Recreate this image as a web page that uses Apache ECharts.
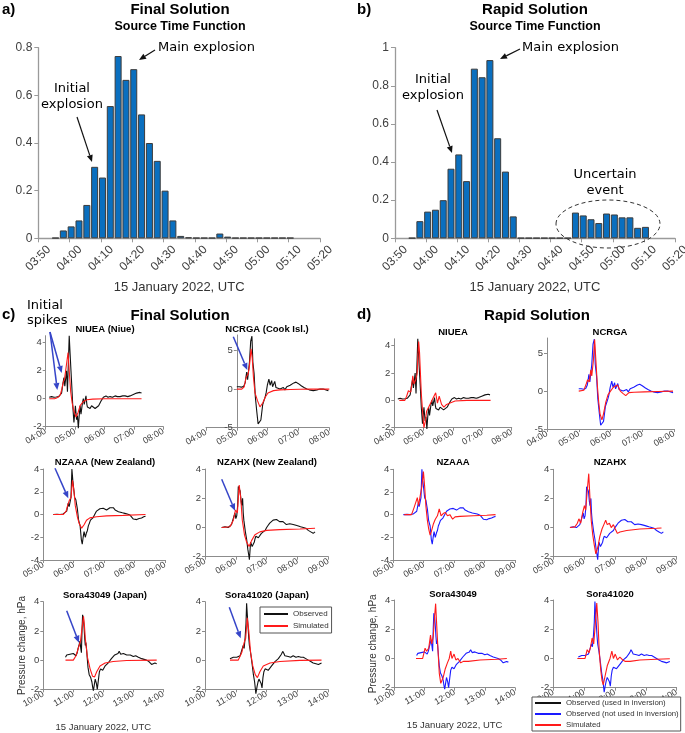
<!DOCTYPE html>
<html>
<head>
<meta charset="utf-8">
<script src="https://cdn.jsdelivr.net/npm/echarts@6/dist/echarts.min.js"></script>
<style>
  html, body { margin: 0; padding: 0; background: #fff; }
  #chart { width: 685px; height: 733px; }
</style>
</head>
<body>
<div id="chart"></div>
<script>
// ---------- source time functions (a, b) ----------
// bin centres in minutes after 03:50 UTC
const stfMinutes = [5.5, 8, 10.5, 13, 15.5, 18, 20.5, 23, 25.5, 28, 30.5, 33, 35.5, 38, 40.5, 43,
  45.5, 48, 50.5, 53, 55.5, 58, 60.5, 63, 65.5, 68, 70.5, 73, 75.5, 78, 80.5];
const finalSTF = [0.002, 0.033, 0.05, 0.075, 0.14, 0.30, 0.255, 0.555, 0.765, 0.665, 0.71, 0.52, 0.40, 0.325, 0.20, 0.075,
  0.01, 0.004, 0.002, 0.002, 0.002, 0.02, 0.007, 0.002, 0.002, 0.002, 0.002, 0.002, 0.002, 0.002, 0.002];
const rapidSTF = [0.002, 0.09, 0.14, 0.15, 0.20, 0.365, 0.44, 0.30, 0.89, 0.845, 0.935, 0.525, 0.35, 0.115, 0.002, 0.002,
  0.002, 0.002, 0.002, 0.002, 0.002, 0.135, 0.12, 0.10, 0.08, 0.13, 0.125, 0.11, 0.11, 0.055, 0.06];
const stfTicks = [0, 10, 20, 30, 40, 50, 60, 70, 80, 90];
const stfTickLabels = ['03:50', '04:00', '04:10', '04:20', '04:30', '04:40', '04:50', '05:00', '05:10', '05:20'];
const finalYTicks = [0, 0.2, 0.4, 0.6, 0.8];
const rapidYTicks = [0, 0.2, 0.4, 0.6, 0.8, 1];

// ---------- barograph waveforms (c, d): [hour UTC, hPa] ----------
const obsNIUEA = [[4.12,0.1],[4.2,0.15],[4.28,0.1],[4.36,0.12],[4.44,0.15],[4.5,0.2],[4.54,0.4],[4.58,1.0],[4.62,1.5],[4.65,0.9],
  [4.68,0.8],[4.71,2.0],[4.74,0.5],[4.77,2.5],[4.8,4.5],[4.83,3.2],[4.86,2.0],[4.89,0.8],[4.92,-0.5],[4.96,-1.7],[4.99,-1.0],
  [5.01,-0.5],[5.05,-1.5],[5.08,-1.2],[5.11,-2.1],[5.14,-1.2],[5.17,-0.5],[5.2,-1.1],[5.22,-1.0],[5.25,-0.3],[5.28,0.0],
  [5.31,-0.4],[5.34,-0.3],[5.37,0.2],[5.4,-0.4],[5.42,-0.6],[5.47,-0.5],[5.51,-0.7],[5.56,-0.5],[5.62,-0.6],[5.68,-0.7],
  [5.74,-0.8],[5.8,-0.5],[5.85,-0.4],[5.9,-0.1],[5.96,0.1],[6.0,0.05],[6.05,0.2],[6.12,0.1],[6.19,0.15],[6.27,0.1],[6.36,0.2],
  [6.44,0.15],[6.53,0.15],[6.62,0.2],[6.7,0.2],[6.79,0.15],[6.87,0.2],[6.93,0.3],[6.98,0.3],[7.04,0.35],[7.09,0.4],[7.15,0.45],
  [7.2,0.45],[7.26,0.4]];
const obsNCRGA = [[5.0,0.3],[5.08,0.3],[5.15,0.25],[5.22,0.35],[5.27,0.8],[5.32,2.2],[5.35,1.2],[5.37,1.0],[5.41,3.5],[5.45,6.2],
  [5.49,6.85],[5.52,3.5],[5.56,2.0],[5.6,-1.0],[5.65,-3.0],[5.69,-4.5],[5.73,-4.7],[5.78,-4.0],[5.84,-2.0],[5.88,-1.5],[5.92,-1.0],
  [5.95,-0.5],[5.99,0.5],[6.04,1.3],[6.08,0.5],[6.13,1.1],[6.16,0.3],[6.19,0.4],[6.23,1.0],[6.27,0.2],[6.32,0.3],[6.4,0.0],
  [6.45,0.2],[6.51,0.2],[6.56,-0.1],[6.62,0.3],[6.68,0.4],[6.73,0.5],[6.79,0.7],[6.85,0.8],[6.92,0.9],[7.0,0.7],[7.05,0.55],
  [7.1,0.4],[7.18,0.2],[7.27,0.0],[7.35,-0.1],[7.48,-0.2],[7.6,-0.1],[7.7,0.0],[7.8,0.0],[7.86,-0.1],[7.97,-0.2]];
const obsNZAAA = [[5.33,0],[5.45,0.02],[5.55,0.0],[5.65,0.05],[5.71,0.05],[5.77,0.3],[5.82,1.0],[5.85,0.7],[5.88,0.6],[5.91,1.5],
  [5.94,4.0],[5.97,3.0],[5.99,2.5],[6.03,1.5],[6.07,1.3],[6.1,0.8],[6.12,0.5],[6.16,-0.5],[6.21,-1.0],[6.25,-2.2],[6.28,-2.6],
  [6.31,-2.0],[6.34,-1.5],[6.38,-2.0],[6.42,-1.6],[6.45,-1.4],[6.48,-1.0],[6.51,-0.8],[6.55,-0.5],[6.59,-0.4],[6.63,-0.3],
  [6.67,-0.2],[6.71,0.1],[6.75,0.3],[6.8,0.2],[6.86,0.5],[6.92,0.45],[6.97,0.55],[7.03,0.6],[7.08,0.4],[7.14,0.5],[7.19,0.6],
  [7.25,0.65],[7.3,0.6],[7.36,0.4],[7.41,0.3],[7.47,0.25],[7.52,0.2],[7.6,0.15],[7.68,0.1],[7.76,0.05],[7.85,-0.05],[7.9,-0.2],
  [7.96,-0.4],[8.02,-0.4],[8.07,-0.45],[8.15,-0.35],[8.23,-0.3],[8.3,-0.2],[8.36,-0.15]];
const obsNZAHX = [[5.54,0],[5.6,-0.1],[5.65,0.05],[5.7,0.1],[5.75,0.0],[5.81,0.0],[5.86,0.2],[5.92,0.3],[5.97,1.0],[6.0,0.6],
  [6.03,0.8],[6.06,1.5],[6.08,2.8],[6.11,2.9],[6.14,2.5],[6.17,1.8],[6.19,1.5],[6.22,2.0],[6.24,1.0],[6.26,0.5],[6.31,-0.3],
  [6.35,-0.8],[6.39,-1.5],[6.42,-1.9],[6.44,-2.2],[6.48,-1.0],[6.53,-1.3],[6.57,-1.4],[6.6,-1.0],[6.62,-0.8],[6.65,-0.6],
  [6.68,-0.5],[6.73,-0.7],[6.78,-0.6],[6.83,-0.4],[6.89,-0.3],[6.95,-0.2],[7.0,0.0],[7.05,0.15],[7.1,0.3],[7.16,0.4],[7.21,0.5],
  [7.27,0.55],[7.32,0.55],[7.37,0.45],[7.42,0.4],[7.48,0.45],[7.53,0.4],[7.58,0.3],[7.64,0.2],[7.7,0.3],[7.75,0.25],[7.81,0.2],
  [7.86,0.2],[7.95,0.15],[8.03,0.1],[8.1,0.05],[8.19,0.0],[8.27,-0.05],[8.35,-0.2],[8.43,-0.3],[8.51,-0.4],[8.57,-0.3]];
const obsSora43049 = [[10.74,0.2],[10.78,0.35],[10.84,0.35],[10.89,0.4],[10.95,0.4],[11.0,0.45],[11.05,0.4],[11.09,0.3],[11.13,0.5],
  [11.16,0.8],[11.2,1.1],[11.22,1.3],[11.25,0.8],[11.27,0.5],[11.29,2.0],[11.31,3.1],[11.34,2.8],[11.36,2.2],[11.38,1.5],[11.4,1.0],
  [11.42,1.2],[11.44,0.8],[11.47,0.0],[11.49,-0.5],[11.53,-1.0],[11.58,-1.2],[11.62,-1.5],[11.65,-1.9],[11.67,-2.1],[11.7,-1.7],
  [11.73,-1.3],[11.77,-1.6],[11.8,-2.0],[11.84,-1.3],[11.87,-0.8],[11.91,-0.6],[11.94,-0.5],[11.98,-0.7],[12.02,-0.6],[12.06,-0.4],
  [12.11,-0.4],[12.16,-0.2],[12.22,-0.1],[12.27,0.1],[12.33,0.2],[12.38,0.35],[12.44,0.3],[12.49,0.45],[12.53,0.6],[12.58,0.4],
  [12.62,0.3],[12.67,0.45],[12.72,0.5],[12.78,0.35],[12.83,0.3],[12.9,0.35],[13.0,0.25],[13.08,0.3],[13.17,0.2],[13.22,0.2],
  [13.28,0.1],[13.36,0.05],[13.44,0.0],[13.52,-0.1],[13.61,-0.3],[13.67,-0.2],[13.72,-0.2],[13.78,-0.25]];
const obsSora41020 = [[10.81,0.1],[10.86,0.15],[10.92,0.2],[10.98,0.2],[11.03,0.2],[11.08,0.25],[11.14,0.3],[11.19,0.4],[11.24,1.0],
  [11.27,0.8],[11.3,1.5],[11.33,2.5],[11.35,3.9],[11.37,3.2],[11.39,2.5],[11.42,1.5],[11.44,1.0],[11.48,0.5],[11.53,-0.3],[11.57,-1.0],
  [11.61,-1.5],[11.65,-2.3],[11.69,-1.8],[11.72,-1.5],[11.75,-1.3],[11.78,-1.2],[11.82,-1.6],[11.85,-1.9],[11.88,-1.2],[11.91,-0.8],
  [11.95,-0.6],[12.0,-0.5],[12.05,-0.7],[12.11,-0.6],[12.16,-0.4],[12.22,-0.3],[12.27,-0.1],[12.32,0.0],[12.38,0.1],[12.43,0.2],
  [12.48,0.4],[12.52,0.6],[12.56,0.45],[12.59,0.3],[12.65,0.2],[12.7,0.25],[12.78,0.2],[12.86,0.3],[12.95,0.2],[13.03,0.25],
  [13.11,0.2],[13.19,0.2],[13.27,0.1],[13.35,0.0],[13.43,-0.1],[13.51,-0.2],[13.6,-0.25],[13.68,-0.3],[13.78,-0.2]];

const simFinalNIUEA = [[4.12,0],[4.3,0],[4.37,0.05],[4.45,0.15],[4.5,0.3],[4.55,0.7],[4.6,1.2],[4.64,1.4],[4.67,1.5],[4.71,2.5],
  [4.76,3.3],[4.8,2.0],[4.85,0.5],[4.9,-0.3],[4.96,-0.9],[5.03,-1.3],[5.1,-1.0],[5.17,-0.5],[5.28,-0.2],[5.4,-0.08],[5.6,-0.03],
  [6.0,0],[7.26,0]];
const simFinalNCRGA = [[5.0,0],[5.16,0],[5.24,0.3],[5.3,1.5],[5.37,2.0],[5.41,3.0],[5.46,5.2],[5.5,4.0],[5.54,1.5],[5.59,-0.5],
  [5.67,-1.5],[5.75,-2.3],[5.84,-1.8],[5.93,-1.0],[6.01,-0.5],[6.19,-0.2],[6.4,-0.1],[6.73,-0.05],[7.37,0],[8.0,0]];
const simFinalNZAAA = [[5.33,0],[5.66,0],[5.75,0.3],[5.8,0.8],[5.85,1.2],[5.91,1.5],[5.96,3.0],[6.01,2.0],[6.05,0.8],[6.12,-0.2],
  [6.18,-0.8],[6.26,-1.2],[6.34,-0.9],[6.42,-0.5],[6.53,-0.3],[6.75,-0.2],[7.08,-0.12],[7.63,-0.08],[8.36,0]];
const simFinalNZAHX = [[5.54,0],[5.81,0.05],[5.92,0.5],[5.99,1.2],[6.05,1.0],[6.11,2.9],[6.16,2.0],[6.21,0.5],[6.28,-0.5],[6.35,-1.0],
  [6.43,-1.3],[6.51,-0.9],[6.62,-0.5],[6.78,-0.3],[7.0,-0.2],[7.42,-0.15],[8.08,-0.1],[8.57,-0.05]];
const simFinalSora43049 = [[10.74,0],[11.0,0],[11.09,0.3],[11.18,0.9],[11.24,1.3],[11.31,2.5],[11.34,3.0],[11.37,2.4],[11.4,1.5],
  [11.47,0.2],[11.56,-0.6],[11.64,-1.1],[11.71,-1.15],[11.78,-0.8],[11.89,-0.4],[12.06,-0.2],[12.33,-0.1],[12.78,-0.03],[13.78,0]];
const simFinalSora41020 = [[10.81,0],[11.08,0],[11.19,0.5],[11.27,1.2],[11.32,1.5],[11.37,2.9],[11.42,2.0],[11.48,0.5],[11.55,-0.4],
  [11.63,-1.0],[11.7,-1.2],[11.78,-0.8],[11.89,-0.4],[12.11,-0.2],[12.43,-0.1],[13.08,-0.02],[13.78,0]];

const simRapidNIUEA = [[4.17,0],[4.36,0],[4.42,0.3],[4.48,0.7],[4.52,0.75],[4.56,0.6],[4.6,1.2],[4.63,1.8],[4.67,1.2],[4.7,1.3],
  [4.73,1.5],[4.78,2.0],[4.81,3.5],[4.83,4.3],[4.86,3.5],[4.88,2.5],[4.92,0.5],[4.97,-1.0],[5.01,-2.0],[5.06,-1.5],[5.1,-0.8],
  [5.17,-0.5],[5.24,-0.2],[5.33,0.2],[5.41,0.55],[5.47,-0.2],[5.53,0.3],[5.61,-0.3],[5.69,-0.5],[5.78,-0.3],[5.9,-0.2],
  [6.07,-0.05],[6.47,0],[7.28,0]];
const simRapidNCRGA = [[5.0,0],[5.16,0.1],[5.24,1.0],[5.28,1.5],[5.33,1.2],[5.38,2.8],[5.41,2.0],[5.46,4.0],[5.5,6.8],[5.54,4.0],
  [5.59,0.5],[5.63,-1.5],[5.67,-3.0],[5.73,-3.8],[5.78,-3.0],[5.85,-1.5],[5.92,-0.5],[6.0,0.0],[6.09,0.5],[6.15,0.3],[6.22,0.8],
  [6.31,0.0],[6.39,-0.3],[6.48,-0.6],[6.58,-0.2],[6.74,-0.15],[7.07,-0.1],[7.51,-0.05],[7.97,0]];
const simRapidNZAAA = [[5.36,0],[5.6,0],[5.68,0.6],[5.73,0.5],[5.79,1.5],[5.83,0.8],[5.88,1.6],[5.94,2.5],[5.99,3.8],[6.03,2.5],
  [6.07,0.8],[6.12,-0.5],[6.16,-1.2],[6.21,-1.8],[6.25,-1.5],[6.32,-0.8],[6.38,-0.4],[6.45,-0.1],[6.51,0.5],[6.57,-0.1],[6.64,0.1],
  [6.71,0.2],[6.78,-0.1],[6.86,0.0],[6.95,-0.4],[7.03,-0.2],[7.19,-0.15],[7.63,-0.1],[8.07,-0.05],[8.36,0]];
const simRapidNZAHX = [[5.54,0],[5.7,0.05],[5.78,0.3],[5.83,0.6],[5.89,0.3],[5.95,1.0],[6.01,1.5],[6.05,1.2],[6.1,2.5],[6.15,3.7],
  [6.19,2.0],[6.23,0.5],[6.28,-0.5],[6.33,-1.2],[6.38,-1.8],[6.45,-1.3],[6.51,-0.6],[6.58,-0.1],[6.64,0.2],[6.7,0.5],[6.75,0.2],
  [6.82,0.3],[6.88,0.0],[6.95,0.2],[7.01,-0.1],[7.08,-0.4],[7.16,-0.3],[7.38,-0.2],[7.81,-0.1],[8.35,-0.05],[8.51,-0.03]];
const simRapidSora43049 = [[10.72,0],[10.94,0],[11.02,0.7],[11.07,0.5],[11.14,0.7],[11.2,1.6],[11.24,1.0],[11.29,1.5],[11.34,3.0],
  [11.37,3.75],[11.4,2.5],[11.45,0.5],[11.49,-1.0],[11.54,-1.7],[11.58,-1.8],[11.62,-1.3],[11.69,-0.7],[11.76,-0.3],[11.82,0.0],
  [11.87,0.5],[11.91,0.0],[11.98,0.3],[12.04,-0.1],[12.11,0.0],[12.2,-0.3],[12.29,-0.2],[12.45,-0.2],[12.84,-0.1],[13.4,-0.05],[13.73,0]];
const simRapidSora41020 = [[10.78,0],[11.03,0],[11.1,0.6],[11.16,0.4],[11.21,0.8],[11.26,1.4],[11.31,1.0],[11.35,2.0],[11.41,3.8],
  [11.45,2.5],[11.49,0.5],[11.54,-0.8],[11.58,-1.5],[11.62,-1.8],[11.68,-1.2],[11.75,-0.5],[11.84,0.0],[11.9,0.5],[11.95,0.0],
  [12.01,0.3],[12.08,-0.1],[12.16,0.1],[12.25,-0.1],[12.34,-0.2],[12.49,-0.2],[12.81,-0.1],[13.35,-0.05],[13.78,-0.02]];

const hoursNiue = [4, 5, 6, 7, 8];
const hoursNZ = [5, 6, 7, 8, 9];
const hoursJapan = [10, 11, 12, 13, 14];
const ticksSmall = [-2, 0, 2, 4];
const ticksCook = [-5, 0, 5];
const ticksNZAAA = [-4, -2, 0, 2, 4];

// ---------- styling ----------
const FONT = "'Liberation Sans', Arial, sans-serif";
const ANN = "'DejaVu Sans', Verdana, sans-serif";
const AXIS = '#9a9a9a';
const LBL = '#404040';
const BLACK = '#111111', RED = '#ff1a1a', BLUE = '#1a1aff';
const USED = 'Observed (used in inversion)', NOTUSED = 'Observed (not used in inversion)';

const grids = [], xAxes = [], yAxes = [], series = [], elements = [];

function hourLabel(v) { return (v < 10 ? '0' : '') + v + ':00'; }

// top panels a) and b)
function stfPanel(left, width, ymax, yticks, values) {
  const i = grids.length;
  grids.push({ left: left, top: 47.7, width: width, height: 190.6, outerBoundsMode: 'none' });
  xAxes.push({
    gridIndex: i, type: 'value', min: 0, max: 90,
    axisLine: { onZero: false, lineStyle: { color: AXIS, width: 1.3 } },
    axisTick: { customValues: stfTicks, length: 4, lineStyle: { color: AXIS } },
    axisLabel: { customValues: stfTicks, rotate: 45, align: 'center', verticalAlign: 'middle', margin: 20,
      fontSize: 12, color: LBL, fontFamily: FONT,
      formatter: v => stfTickLabels[stfTicks.indexOf(v)] },
    splitLine: { show: false },
    name: '15 January 2022, UTC', nameLocation: 'middle', nameGap: 43,
    nameTextStyle: { fontSize: 13, color: '#333', fontFamily: FONT }
  });
  yAxes.push({
    gridIndex: i, type: 'value', min: 0, max: ymax,
    axisLine: { show: true, lineStyle: { color: AXIS, width: 1.3 } },
    axisTick: { show: true, customValues: yticks, length: 4, lineStyle: { color: AXIS } },
    axisLabel: { customValues: yticks, fontSize: 12, color: LBL, fontFamily: FONT, margin: 6 },
    splitLine: { show: false }
  });
  series.push({
    type: 'bar', xAxisIndex: i, yAxisIndex: i, barWidth: 7,
    data: stfMinutes.map((m, k) => [m, values[k]]),
    itemStyle: { color: '#0a6fbf', borderColor: '#3c3c3c', borderWidth: 1 }
  });
}

stfPanel(38.3, 281.7, 0.8, finalYTicks, finalSTF);
stfPanel(395, 280, 1, rapidYTicks, rapidSTF);

// bottom panels c) and d)
const panels = [
  { t: 'NIUEA (Niue)', tx: 105, ty: 329, box: [45.7, 335.7, 117.6, 91], x: [4, 8], y: [-2, 4.5], xt: hoursNiue, yt: ticksSmall,
    obs: obsNIUEA, sim: simFinalNIUEA, on: 'Observed', oc: BLACK },
  { t: 'NCRGA (Cook Isl.)', tx: 267, ty: 329, box: [206, 335, 123.3, 92.7], off: -30.8, x: [4, 8], y: [-5, 7], xt: hoursNiue, yt: ticksCook,
    obs: obsNCRGA, sim: simFinalNCRGA, on: 'Observed', oc: BLACK },
  { t: 'NZAAA (New Zealand)', tx: 105, ty: 462, box: [43.3, 469, 121.7, 91], x: [5, 9], y: [-4, 4], xt: hoursNZ, yt: ticksNZAAA,
    obs: obsNZAAA, sim: simFinalNZAAA, on: 'Observed', oc: BLACK },
  { t: 'NZAHX (New Zealand)', tx: 267, ty: 462, box: [205, 469, 123.3, 87.7], x: [5, 9], y: [-2, 4], xt: hoursNZ, yt: ticksSmall,
    obs: obsNZAHX, sim: simFinalNZAHX, on: 'Observed', oc: BLACK },
  { t: 'Sora43049 (Japan)', tx: 105, ty: 595, box: [43.3, 601.7, 120, 87.6], x: [10, 14], y: [-2, 4], xt: hoursJapan, yt: ticksSmall,
    obs: obsSora43049, sim: simFinalSora43049, on: 'Observed', oc: BLACK, names: true },
  { t: 'Sora41020 (Japan)', tx: 267, ty: 595, box: [205, 601.7, 123.3, 87.6], x: [10, 14], y: [-2, 4], xt: hoursJapan, yt: ticksSmall,
    obs: obsSora41020, sim: simFinalSora41020, on: 'Observed', oc: BLACK },
  { t: 'NIUEA', tx: 453, ty: 332, box: [394.3, 338.8, 117.4, 88.9], x: [4, 8], y: [-2, 4.5], xt: hoursNiue, yt: ticksSmall,
    obs: obsNIUEA, sim: simRapidNIUEA, on: USED, oc: BLACK },
  { t: 'NCRGA', tx: 610, ty: 332, box: [547, 338, 127, 91], x: [4, 8], y: [-5, 7], xt: hoursNiue, yt: ticksCook,
    obs: obsNCRGA, sim: simRapidNCRGA, on: NOTUSED, oc: BLUE },
  { t: 'NZAAA', tx: 453, ty: 462, box: [393.3, 469.3, 121.7, 90.7], x: [5, 9], y: [-4, 4], xt: hoursNZ, yt: ticksNZAAA,
    obs: obsNZAAA, sim: simRapidNZAAA, on: NOTUSED, oc: BLUE },
  { t: 'NZAHX', tx: 610, ty: 462, box: [553.3, 469.3, 123.3, 87.4], x: [5, 9], y: [-2, 4], xt: hoursNZ, yt: ticksSmall,
    obs: obsNZAHX, sim: simRapidNZAHX, on: NOTUSED, oc: BLUE },
  { t: 'Sora43049', tx: 453, ty: 594, box: [394.3, 600, 120.7, 87.7], x: [10, 14], y: [-2, 4], xt: hoursJapan, yt: ticksSmall,
    obs: obsSora43049, sim: simRapidSora43049, on: NOTUSED, oc: BLUE, names: true },
  { t: 'Sora41020', tx: 610, ty: 594, box: [553.3, 600, 123.3, 87.7], x: [10, 14], y: [-2, 4], xt: hoursJapan, yt: ticksSmall,
    obs: obsSora41020, sim: simRapidSora41020, on: NOTUSED, oc: BLUE }
];

panels.forEach(p => {
  const i = grids.length;
  grids.push({ left: p.box[0], top: p.box[1], width: p.box[2], height: p.box[3], outerBoundsMode: 'none' });
  const xa = {
    gridIndex: i, type: 'value', min: p.x[0], max: p.x[1],
    axisLine: { onZero: false, lineStyle: { color: '#8c8c8c', width: 1 } },
    axisTick: { customValues: p.xt, length: 3, lineStyle: { color: '#8c8c8c' } },
    axisLabel: { customValues: p.xt, rotate: 30, margin: 4, fontSize: 9, color: LBL, fontFamily: FONT, formatter: hourLabel },
    splitLine: { show: false }
  };
  const ya = {
    gridIndex: i, type: 'value', min: p.y[0], max: p.y[1], offset: p.off || 0,
    axisLine: { show: true, onZero: false, lineStyle: { color: '#8c8c8c', width: 1 } },
    axisTick: { show: true, customValues: p.yt, length: 3, lineStyle: { color: '#8c8c8c' } },
    axisLabel: { customValues: p.yt, margin: 4, fontSize: 9.5, color: LBL, fontFamily: FONT },
    splitLine: { show: false }
  };
  if (p.names) {
    xa.name = '15 January 2022, UTC'; xa.nameLocation = 'middle'; xa.nameGap = 33;
    xa.nameTextStyle = { fontSize: 9.5, color: '#333', fontFamily: FONT };
    ya.name = 'Pressure change, hPa'; ya.nameLocation = 'middle'; ya.nameGap = 13;
    ya.nameTextStyle = { fontSize: 10, color: '#333', fontFamily: FONT };
  }
  xAxes.push(xa);
  yAxes.push(ya);
  series.push({ type: 'line', name: p.on, xAxisIndex: i, yAxisIndex: i, data: p.obs, symbol: 'none', clip: false,
    lineStyle: { color: p.oc, width: 1.1 }, itemStyle: { color: p.oc } });
  series.push({ type: 'line', name: 'Simulated', xAxisIndex: i, yAxisIndex: i, data: p.sim, symbol: 'none', clip: false,
    lineStyle: { color: RED, width: 1.1 }, itemStyle: { color: RED } });
  elements.push(text(p.t, p.tx, p.ty, 'bold 9.5px ' + FONT, 'center'));
});

// ---------- annotations ----------
function text(s, x, y, font, align, lh) {
  return { type: 'text', x: x, y: y, z: 50,
    style: { text: s, font: font, fill: '#000', textAlign: align || 'left', align: align || 'left',
      textVerticalAlign: 'middle', verticalAlign: 'middle', lineHeight: lh || undefined } };
}
function arrow(x1, y1, x2, y2, color, w) {
  const a = Math.atan2(y2 - y1, x2 - x1), L = 7, W = 3;
  const bx = x2 - L * Math.cos(a), by = y2 - L * Math.sin(a);
  return [
    { type: 'line', z: 50, shape: { x1: x1, y1: y1, x2: bx, y2: by }, style: { stroke: color, lineWidth: w } },
    { type: 'polygon', z: 50, shape: { points: [[x2, y2], [bx + W * Math.sin(a), by - W * Math.cos(a)], [bx - W * Math.sin(a), by + W * Math.cos(a)]] },
      style: { fill: color } }
  ];
}

const B15 = 'bold 15px ' + FONT;
elements.push(
  text('a)', 2, 10, B15), text('Final Solution', 180, 10, B15, 'center'),
  text('Source Time Function', 180, 27, 'bold 12.5px ' + FONT, 'center'),
  text('Main explosion', 158, 48, '13px ' + ANN), text('Initial\nexplosion', 72, 97, '13px ' + ANN, 'center', 16),
  text('b)', 357, 10, B15), text('Rapid Solution', 535, 10, B15, 'center'),
  text('Source Time Function', 535, 27, 'bold 12.5px ' + FONT, 'center'),
  text('Main explosion', 522, 48, '13px ' + ANN), text('Initial\nexplosion', 433, 88, '13px ' + ANN, 'center', 16),
  text('Uncertain\nevent', 605, 183, '13px ' + ANN, 'center', 16),
  { type: 'ellipse', z: 50, shape: { cx: 608, cy: 224, rx: 52, ry: 24 }, style: { fill: 'none', stroke: '#333', lineWidth: 1, lineDash: [4, 3] } },
  text('c)', 2, 315, B15), text('Initial\nspikes', 27, 313, '13px ' + ANN, 'left', 15),
  text('Final Solution', 180, 316, B15, 'center'),
  text('d)', 357, 315, B15), text('Rapid Solution', 537, 316, B15, 'center')
);
[[155, 50, 139, 60], [77, 117, 92, 162], [520, 49, 500, 59], [437, 110, 452, 153]]
  .forEach(a => elements.push(...arrow(a[0], a[1], a[2], a[3], '#111', 1.2)));
[[50, 332, 61.7, 373], [50, 332, 57.3, 390], [233.3, 336.7, 247.3, 370], [55, 468.3, 68.3, 498.3],
 [221.7, 479.3, 235, 510.7], [66.7, 610.7, 79, 642.7], [229.3, 607.3, 240.7, 638.3]]
  .forEach(a => elements.push(...arrow(a[0], a[1], a[2], a[3], '#3645c8', 1.5)));

const chart = echarts.init(document.getElementById('chart'));
chart.setOption({
  animation: false,
  backgroundColor: '#fff',
  grid: grids,
  xAxis: xAxes,
  yAxis: yAxes,
  series: series,
  legend: [
    { data: ['Observed', 'Simulated'], left: 260, top: 607, orient: 'vertical', icon: 'rect', itemWidth: 24, itemHeight: 2, itemGap: 4,
      padding: [3, 3, 3, 4], borderColor: '#555', borderWidth: 1, backgroundColor: '#fff', z: 20,
      textStyle: { fontSize: 8, color: '#333', fontFamily: FONT } },
    { data: [USED, NOTUSED, 'Simulated'], left: 532, top: 697, orient: 'vertical', icon: 'rect', itemWidth: 26, itemHeight: 2, itemGap: 3,
      padding: [2, 2, 2, 3], borderColor: '#555', borderWidth: 1, backgroundColor: '#fff', z: 20,
      textStyle: { fontSize: 7.8, color: '#333', fontFamily: FONT } }
  ],
  graphic: { elements: elements }
});
</script>
</body>
</html>
